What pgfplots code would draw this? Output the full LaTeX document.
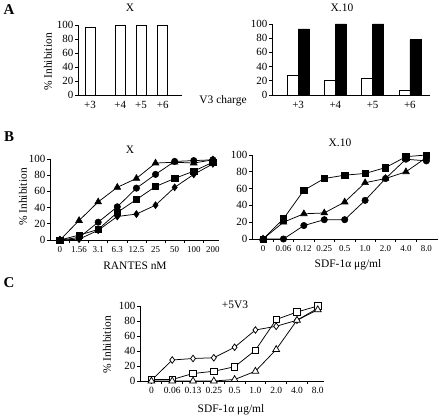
\documentclass[border=0pt]{standalone}
\usepackage{fontspec}
\setmainfont{Liberation Serif}
\usepackage{pgfplots}
\pgfplotsset{compat=1.18}
\pgfplotsset{
  base/.style={scale only axis, anchor=south west, axis lines=left,
    axis line style={-, line width=0.8pt},
    every tick/.style={black, line width=0.7pt},
    tick align=outside, major tick length=3bp, minor tick length=3bp,
    ymin=0, ymax=100, ytick={0,20,40,60,80,100},
    yticklabel style={font=\fontsize{11}{12}\selectfont, inner sep=1.5bp},
    /pgf/number format/assume math mode=true, clip=false,
    major x tick style={draw=none}},
  lin/.style={black, line width=0.75pt, mark options={solid, line width=0.55pt}},
}
\begin{document}
\begin{tikzpicture}
\useasboundingbox (0,0) rectangle (439bp,419bp);
% ---------------- Panel A ----------------
\begin{axis}[base, at={(78bp,324bp)}, width=104bp, height=70bp,
  xmin=-0.49, xmax=3.79, xtick={0,1.25,2.1,3}, xticklabels={+3,+4,+5,+6},
  xticklabel style={font=\fontsize{11}{12}\selectfont},
  ybar, bar width=10bp]
\addplot[draw=black, fill=white, line width=0.7pt] coordinates {(0,97) (1.25,99) (2.1,100) (3,99)};
\end{axis}
\begin{axis}[base, at={(272bp,324bp)}, width=158bp, height=71bp,
  xmin=-0.70, xmax=3.54, xtick={0,1,2,3}, xticklabels={+3,+4,+5,+6},
  xticklabel style={font=\fontsize{11}{12}\selectfont},
  ybar, bar width=11bp]
\addplot[draw=black, fill=white, line width=0.7pt, bar shift=-5.5bp] coordinates {(0,27) (1,20) (2,24) (3,6)};
\addplot[draw=black, fill=black, line width=0.7pt, bar shift=5.5bp] coordinates {(0,93) (1,100) (2,100) (3,78)};
\end{axis}
% ---------------- Panel B ----------------
\begin{axis}[base, at={(50bp,179bp)}, width=169bp, height=81bp,
  xmin=-0.52, xmax=8.32, xtick={0,...,8},
  xticklabels={0,1.56,3.1,6.3,12.5,25,50,100,200},
  xticklabel style={font=\fontsize{9}{10}\selectfont},
  minor xtick={0.5,1.5,...,7.5}]
\addplot[lin, mark=triangle*, mark size=3.9bp] coordinates {(0,0) (1,24) (2,47) (3,65) (4,76) (5,95) (6,96) (7,95) (8,99)};
\addplot[lin, mark=*, mark size=3.2bp] coordinates {(0,0) (1,3) (2,22) (3,41) (4,64) (5,81) (6,97) (7,98) (8,99)};
\addplot[lin, mark=square*, mark size=3.2bp] coordinates {(0,0) (1,6) (2,13) (3,34) (4,50) (5,66) (6,76) (7,85) (8,96)};
\addplot[lin, mark=diamond*, mark size=3.5bp] coordinates {(0,0) (1,1) (2,12) (3,29) (4,32) (5,43) (6,65) (7,81) (8,94)};
\end{axis}
\begin{axis}[base, at={(252bp,180bp)}, width=186bp, height=84bp,
  xmin=-0.54, xmax=8.57, xtick={0,...,8},
  xticklabels={0,0.06,0.12,0.25,0.5,1.0,2.0,4.0,8.0},
  xticklabel style={font=\fontsize{9}{10}\selectfont},
  minor xtick={0.5,1.5,...,7.5}]
\addplot[lin, mark=square*, mark size=3.2bp] coordinates {(0,0) (1,24) (2,58) (3,72) (4,76) (5,78) (6,85) (7,98) (8,100)};
\addplot[lin, mark=triangle*, mark size=3.9bp] coordinates {(0,0) (1,20) (2,30) (3,31) (4,44) (5,67) (6,72) (7,80) (8,97)};
\addplot[lin, mark=*, mark size=3.2bp] coordinates {(0,0) (1,0) (2,16) (3,23) (4,23) (5,46) (6,72) (7,95) (8,93)};
\end{axis}
% ---------------- Panel C ----------------
\begin{axis}[base, at={(140bp,38bp)}, width=184bp, height=75bp,
  xmin=-0.55, xmax=8.3, xtick={0,...,8},
  xticklabels={0,0.06,0.13,0.25,0.5,1.0,2.0,4.0,8.0},
  xticklabel style={font=\fontsize{9.5}{10}\selectfont},
  minor xtick={0.5,1.5,...,7.5}]
\addplot[lin, mark=diamond*, mark size=3.3bp, mark options={fill=white}] coordinates {(0,1) (1,28) (2,30) (3,31) (4,45) (5,68) (6,73) (7,81) (8,97)};
\addplot[lin, mark=square*, mark size=3.2bp, mark options={fill=white}] coordinates {(0,2) (1,2) (2,10) (3,13) (4,19) (5,41) (6,82) (7,92) (8,100)};
\addplot[lin, mark=triangle*, mark size=3.9bp, mark options={fill=white}] coordinates {(0,0) (1,0) (2,0) (3,0) (4,2) (5,13) (6,42) (7,81) (8,95)};
\end{axis}
% ---------------- Texts ----------------
\begin{scope}[every node/.style={inner sep=0pt, font=\fontsize{11.5}{13}\selectfont}]
\node[font=\fontsize{15}{17}\bfseries] at (9bp,409bp) {A};
\node at (130bp,411bp) {X};
\node at (342bp,411bp) {X.10};
\node[rotate=90] at (48bp,357bp) {\% Inhibition};
\node at (223bp,318bp) {V3 charge};
\node[font=\fontsize{15}{17}\bfseries] at (9bp,282bp) {B};
\node at (130bp,269bp) {X};
\node at (340bp,276bp) {X.10};
\node[rotate=90] at (23bp,222bp) {\% Inhibition};
\node at (135bp,153bp) {RANTES nM};
\node at (348bp,154bp) {SDF-1α μg/ml};
\node[font=\fontsize{15}{17}\bfseries] at (9bp,136bp) {C};
\node[rotate=90] at (107bp,74bp) {\% Inhibition};
\node at (235bp,114bp) {+5V3};
\node at (231bp,9bp) {SDF-1α μg/ml};
\end{scope}
\end{tikzpicture}
\end{document}
